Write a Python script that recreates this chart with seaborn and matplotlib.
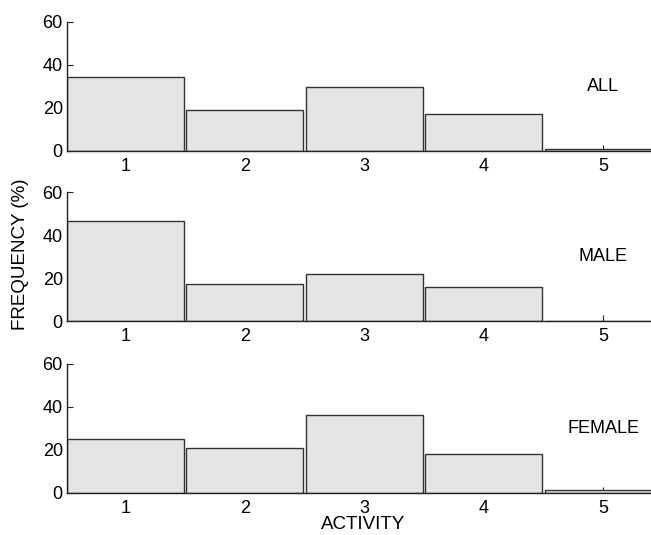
import matplotlib
matplotlib.use("Agg")
import matplotlib.pyplot as plt
import seaborn as sns
import pandas as pd

activity = ["1", "2", "3", "4", "5"]
freq_all = [34.5, 19.2, 29.9, 17.4, 0.8]
freq_male = [46.5, 17.1, 21.9, 15.8, 0.0]
freq_female = [24.8, 21.0, 36.2, 18.1, 1.4]
groups = ["ALL", "MALE", "FEMALE"]
y_ticks = [0, 20, 40, 60]

sns.set_theme(style="ticks")
plt.rcParams["font.family"] = ["Liberation Sans", "DejaVu Sans"]
plt.rcParams.update({
    "text.color": "black",
    "xtick.direction": "in",
    "ytick.direction": "in",
    "xtick.major.size": 4,
    "ytick.major.size": 4,
    "xtick.major.width": 0.8,
    "ytick.major.width": 0.8,
    "xtick.color": "#222222",
    "ytick.color": "#222222",
    "xtick.labelcolor": "black",
    "ytick.labelcolor": "black",
    "axes.edgecolor": "#222222",
    "axes.linewidth": 1.0,
    "xtick.major.pad": 5.0,
    "ytick.major.pad": 3.0,
})

fig = plt.figure(figsize=(6.51, 5.35), dpi=100)

rows = [(0.7178, freq_all), (0.400, freq_male), (0.0791, freq_female)]
for (bottom, values), name in zip(rows, groups):
    ax = fig.add_axes([0.1029, bottom, 0.8971, 0.2411])
    df = pd.DataFrame({"activity": activity, "freq": values})
    sns.barplot(data=df, x="activity", y="freq", order=activity, ax=ax,
                color="#e5e5e5", saturation=1, width=0.98,
                edgecolor="#333333", linewidth=1.0)
    ax.set_xlim(-0.49, 4.40)
    ax.set_ylim(0, 60)
    ax.set_yticks(y_ticks)
    ax.set_xlabel("")
    ax.set_ylabel("")
    ax.tick_params(labelsize=13)
    sns.despine(ax=ax)
    ax.text(4, 30, name, ha="center", va="center", fontsize=13)

fig.text(0.031, 0.525, "FREQUENCY (%)", rotation=90, ha="center", va="center", fontsize=13.5)
fig.text(0.557, 0.019, "ACTIVITY", ha="center", va="center", fontsize=13.5)

fig.savefig("out.png", dpi=100)
